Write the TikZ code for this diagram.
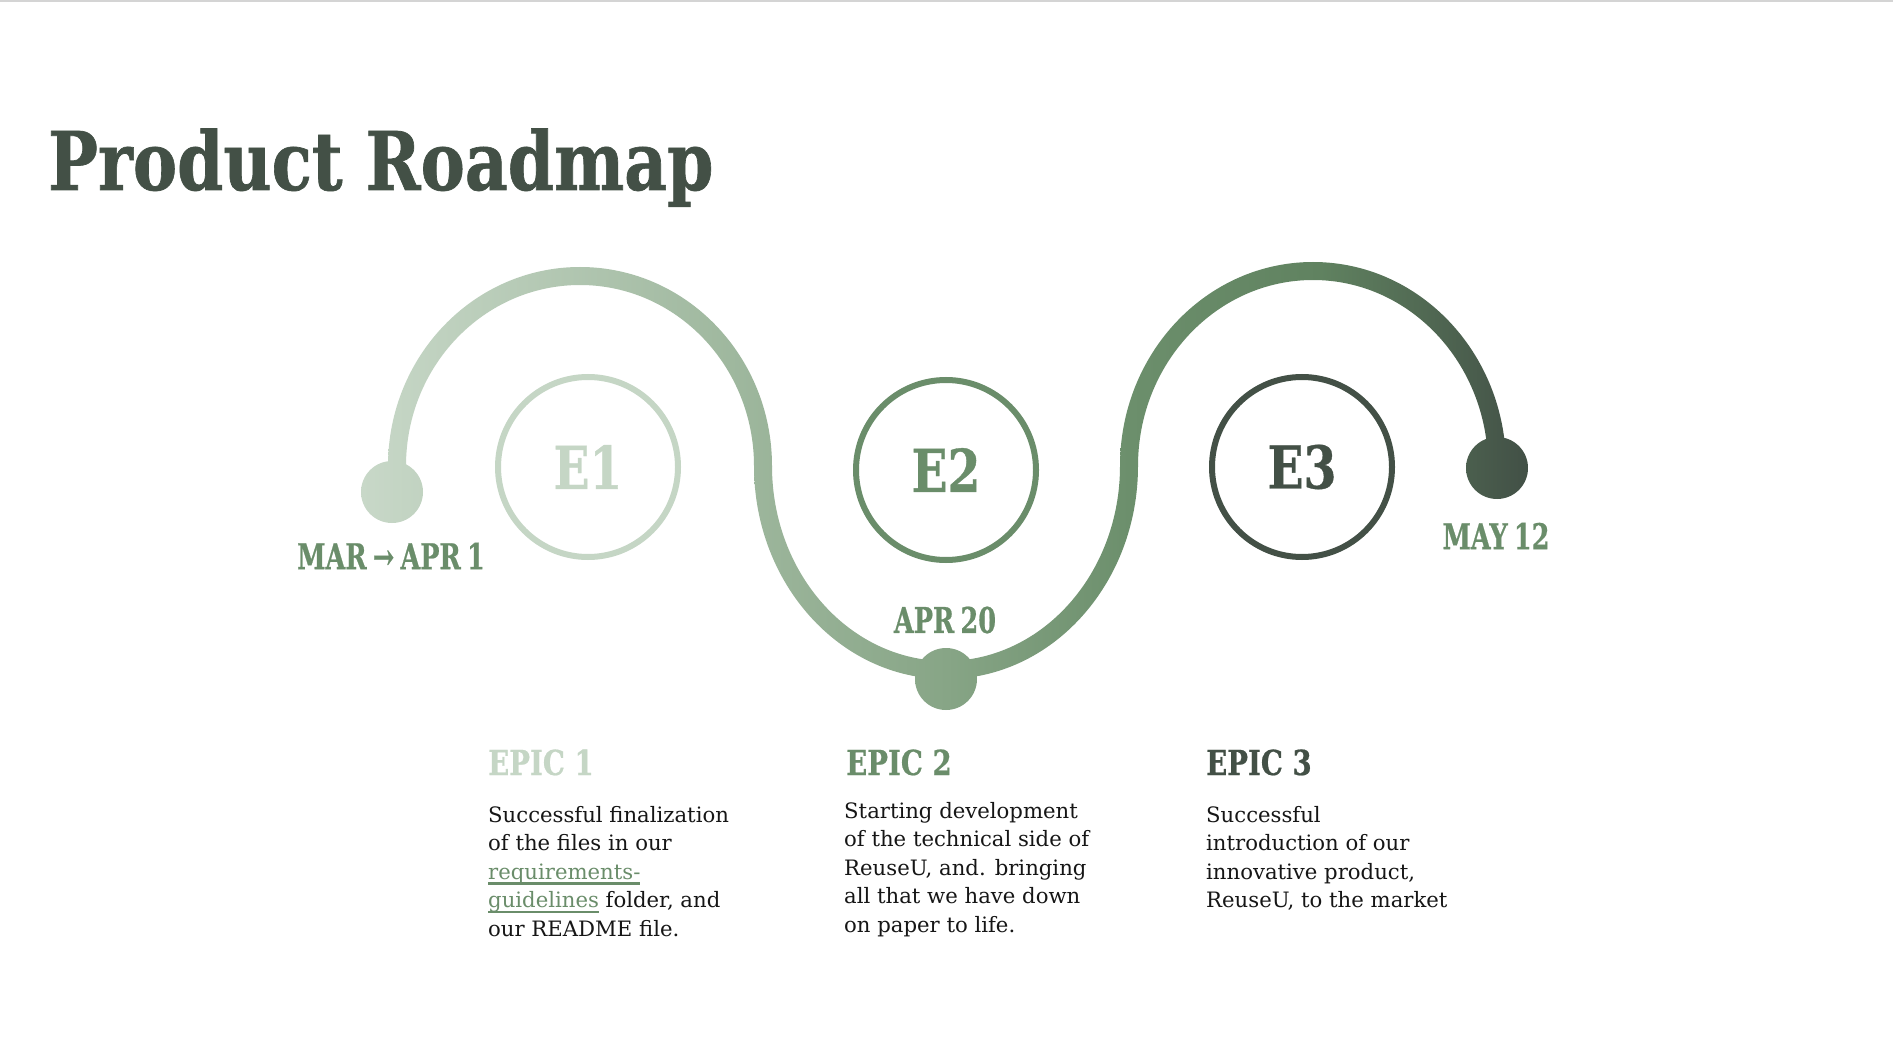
\documentclass[tikz,border=0pt]{standalone}
\usepackage{fontspec}
\setmainfont{DejaVu Serif}
\newfontfamily\headfont{DejaVu Serif}[FakeStretch=0.8, BoldFeatures={FakeBold=0.6}]
\newfontfamily\titlefont{DejaVu Serif}[FakeStretch=0.818, BoldFeatures={FakeBold=0.8}]
\newfontfamily\datefont{DejaVu Serif}[FakeStretch=0.72, WordSpace=0.7, BoldFeatures={FakeBold=0.6}]

\definecolor{rmLight}{RGB}{197,214,197}
\definecolor{rmMid}{RGB}{106,141,106}
\definecolor{rmDark}{RGB}{67,80,70}
\definecolor{rmBody}{RGB}{22,22,22}
\definecolor{rmRule}{RGB}{212,212,212}
% colour stops of the road
\definecolor{gA}{RGB}{200,216,200}
\definecolor{gB}{RGB}{135,165,134}
\definecolor{gC}{RGB}{108,143,108}
\definecolor{gD}{RGB}{96,130,96}
\definecolor{gE}{RGB}{66,80,70}
\pgfdeclarehorizontalshading{roadgrad}{100bp}{color(0bp)=(gA); color(25bp)=(gA); color(50.1bp)=(gB); color(57.9bp)=(gC); color(66.1bp)=(gD); color(75bp)=(gE); color(100bp)=(gE)}

% underlined link text
\newcommand\linktext[1]{\setbox0\hbox{#1}\textcolor{rmMid}{\rlap{\vrule height -3pt depth 5.5pt width \wd0}\box0}}

\tikzset{
  ring/.style={circle, line width=6pt, minimum size=180pt, inner sep=0pt,
    font=\headfont\bfseries\fontsize{59}{59}\selectfont},
  datelabel/.style={text=rmMid, inner sep=0pt, font=\datefont\bfseries\fontsize{35.5}{36}\selectfont},
  epichead/.style={anchor=base west, inner sep=0pt, font=\headfont\bfseries\fontsize{34.5}{36}\selectfont},
  epicbody/.style={anchor=north west, inner sep=0pt, align=left, text=rmBody,
    font=\fontsize{21.2}{28.5}\selectfont},
}

\begin{document}
\begin{tikzpicture}[x=1pt,y=-1pt]
\useasboundingbox (0,0) rectangle (1893,1064);
\fill[white] (0,0) rectangle (1893,1064);
\fill[rmRule] (0,0) rectangle (1893,2.5);

% title
\node[anchor=base west, inner sep=0pt, text=rmDark,
  font=\titlefont\bfseries\fontsize{81}{81}\selectfont] (title) at (48,190) {Product Roadmap};

% the winding road: three half-ellipse bands and three dots, one gradient
\begin{scope}
  \clip (580,466) ++(180:192 and 199) arc[start angle=180,end angle=360,x radius=192,y radius=199]
    -- ++(-18,0) arc[start angle=360,end angle=180,x radius=174,y radius=181] -- cycle;
  \shade[shading=roadgrad] (361,200) rectangle (1528,720);
\end{scope}
\begin{scope}
  \clip (946,466) ++(180:192 and 213) arc[start angle=180,end angle=0,x radius=192,y radius=213]
    -- ++(-18,0) arc[start angle=0,end angle=180,x radius=174,y radius=195] -- cycle;
  \shade[shading=roadgrad] (361,200) rectangle (1528,720);
\end{scope}
\begin{scope}
  \clip (1313,466) ++(180:193 and 204) arc[start angle=180,end angle=360,x radius=193,y radius=204]
    -- ++(-18,0) arc[start angle=360,end angle=180,x radius=175,y radius=186] -- cycle;
  \shade[shading=roadgrad] (361,200) rectangle (1528,720);
\end{scope}
\coordinate (start) at (392,492);
\coordinate (mid) at (946,679);
\coordinate (finish) at (1497,468);
\foreach \p in {start,mid,finish}{
  \begin{scope}
    \clip (\p) circle[radius=31];
    \shade[shading=roadgrad] (361,200) rectangle (1528,720);
  \end{scope}
}

% epic rings
\node[ring, draw=rmLight, text=rmLight] (e1) at (588,467) {E1};
\node[ring, draw=rmMid, text=rmMid] (e2) at (946,470) {E2};
\node[ring, draw=rmDark, text=rmDark] (e3) at (1302,467) {E3};

% dates
\node[datelabel] (d1) at (391,556) {MAR → APR 1};
\node[datelabel] (d2) at (945,620) {APR 20};
\node[datelabel] (d3) at (1496,536) {MAY 12};

% epic descriptions
\node[epichead, text=rmLight] (h1) at (488,775) {EPIC 1};
\node[epichead, text=rmMid] (h2) at (846,775) {EPIC 2};
\node[epichead, text=rmDark] (h3) at (1206,775) {EPIC 3};

\node[epicbody] (b1) at (488,806) {Successful finalization\\of the files in our\\\linktext{requirements-}\\\linktext{guidelines} folder, and\\our README file.};
\node[epicbody] (b2) at (844,802) {Starting development\\of the technical side of\\ReuseU, and. bringing\\all that we have down\\on paper to life.};
\node[epicbody] (b3) at (1206,806) {Successful\\introduction of our\\innovative product,\\ReuseU, to the market};
\end{tikzpicture}
\end{document}
